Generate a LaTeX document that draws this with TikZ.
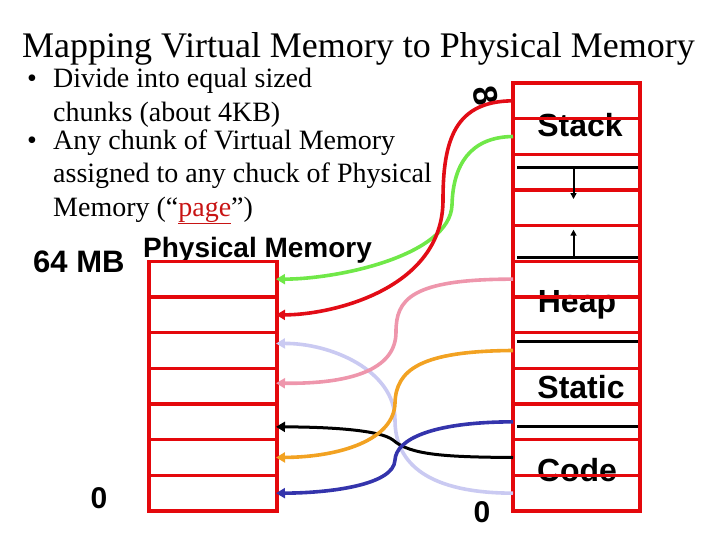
\documentclass[tikz,border=0pt]{standalone}
\usepackage{fontspec}
\setmainfont{Liberation Serif}
\newfontfamily\arial{Liberation Sans}
\usetikzlibrary{arrows.meta,calc}
\definecolor{boxred}{RGB}{228,8,12}
\definecolor{pagered}{RGB}{200,20,20}
\definecolor{cgreen}{RGB}{112,232,72}
\definecolor{cred}{RGB}{226,12,22}
\definecolor{cpink}{RGB}{238,150,172}
\definecolor{clav}{RGB}{202,202,242}
\definecolor{corange}{RGB}{242,162,34}
\definecolor{cblue}{RGB}{52,52,172}
\begin{document}
\begin{tikzpicture}[x=1pt,y=-1pt,
  cell/.style={draw=boxred, line width=3.6pt, minimum width=127pt, minimum height=35.67pt, inner sep=0pt, outer sep=0pt, anchor=north west},
  lbl/.style={font=\arial\bfseries\fontsize{32}{32}\selectfont, inner sep=0pt},
  side/.style={font=\arial\bfseries\fontsize{28}{28}\selectfont, inner sep=0pt, anchor=base west},
  bul/.style={font=\fontsize{28}{28}\selectfont, inner sep=0pt, anchor=base west},
  map/.style={line width=3.6pt, -{Triangle[length=9pt,width=10pt]}, shorten >=-1pt},
  part/.style={line width=3pt, black},
  growarrow/.style={line width=2pt, -{Triangle[length=6pt,width=6pt]}}
  ]
\useasboundingbox (0,0) rectangle (720,540);
% title and bullets
\node[font=\fontsize{36}{36}\selectfont, inner sep=0pt, anchor=base west] (title) at (22,58) {Mapping Virtual Memory to Physical Memory};
\node[bul] (b1) at (27,88) {•};
\node[bul] (t1) at (53,88) {Divide into equal sized};
\node[bul] (t2) at (53,122) {chunks (about 4KB)};
\node[bul] (b2) at (27,150) {•};
\node[bul] (t3) at (53,150) {Any chunk of Virtual Memory};
\node[bul] (t4) at (53,183) {assigned to any chuck of Physical};
\node[bul] (t5) at (53,216) {Memory (“{\color{pagered}\underline{page}}”)};
% side labels
\node[side, font=\arial\bfseries\fontsize{31}{31}\selectfont] (mb) at (33,272) {64 MB};
\node[side] (pm) at (143,258) {Physical Memory};
\node[lbl, font=\arial\bfseries\fontsize{30}{30}\selectfont] (zl) at (99,498) {0};
\node[lbl, font=\arial\bfseries\fontsize{30}{30}\selectfont] (zr) at (482,512) {0};
\node[lbl, font=\arial\bfseries\fontsize{34}{34}\selectfont, rotate=-80] (inf) at (486,96) {8};
% region labels
\node[lbl] (stack) at (580,125) {Stack};
\node[lbl] (heap) at (577,305) {Heap};
\node[lbl] (static) at (581,387) {Static};
\node[lbl] (code) at (577,470) {Code};
% virtual memory column
\foreach \i in {1,...,12} {
  \node[cell] (v\i) at (513,{83+35.667*(\i-1)}) {};
}
% physical memory column
\foreach \i in {1,...,7} {
  \node[cell, minimum width=128pt] (p\i) at (149,{83+35.667*(\i+4)}) {};
}
% partition lines in virtual column
\draw[part] ($(v3.north west)+(4,13)$) -- ($(v3.north east)+(-2,13)$);
\draw[part] ($(v5.north west)+(4,32)$) -- ($(v5.north east)+(-2,32)$);
\draw[part] ($(v8.north west)+(4,9)$) -- ($(v8.north east)+(-2,9)$);
\draw[part] ($(v10.north west)+(4,22)$) -- ($(v10.north east)+(-2,22)$);
\draw[growarrow] ($(v3.north)+(-3,13)$) -- ($(v4.north)+(-3,9)$);
\draw[growarrow] ($(v5.north)+(-3,32)$) -- ($(v5.north)+(-3,4)$);
% mappings
\draw[map, clav] (v12.west) .. controls (430,493) and (395,465) .. (395,420)
   .. controls (395,370) and (330,343) .. ($(p3.east)+(0,-7)$);
\draw[map, black, line width=3pt] (v11.west) .. controls (445,457) and (410,455) .. (393,440)
   .. controls (380,430) and (330,427) .. ($(p5.east)+(0,5)$);
\draw[map, corange] (v8.west) .. controls (420,351) and (396,370) .. (395,403)
   .. controls (394,440) and (340,457) .. (p6.east);
\draw[map, cblue] (v10.west) .. controls (430,422) and (396,440) .. (395,460)
   .. controls (394,485) and (330,493) .. (p7.east);
\draw[map, cpink] (v6.west) .. controls (410,279) and (396,300) .. (396,332)
   .. controls (396,370) and (350,384) .. ($(p4.east)+(0,-3)$);
\draw[map, cgreen] (v2.west) .. controls (470,137) and (453,165) .. (452,205)
   .. controls (450,255) and (340,279) .. (p1.east);
\draw[map, cred] (v1.west) .. controls (455,101) and (443,140) .. (443,200)
   .. controls (443,290) and (330,315) .. (p2.east);
\end{tikzpicture}
\end{document}
